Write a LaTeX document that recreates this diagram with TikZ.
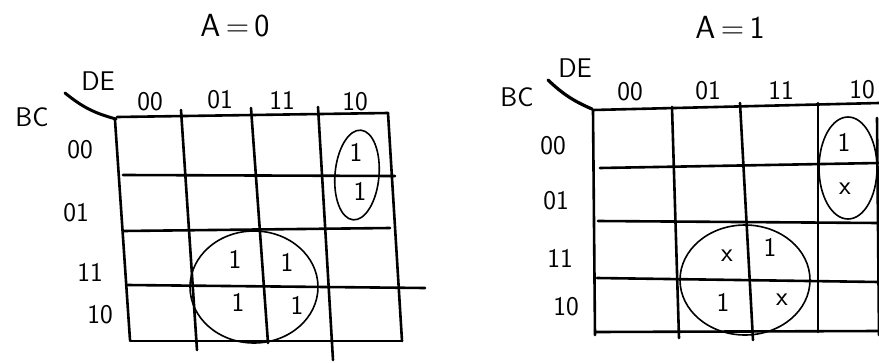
\documentclass[tikz,border=0pt]{standalone}
\usetikzlibrary{shapes.geometric}
\begin{document}
\begin{tikzpicture}[x=1pt,y=-1pt,
  gridline/.style={line width=2.6pt,line cap=round,line join=round},
  lbl/.style={font=\sffamily\fontsize{27}{27}\selectfont,inner sep=0pt},
  entry/.style={font=\sffamily\fontsize{27}{27}\selectfont,inner sep=0pt},
  title/.style={font=\sffamily\fontsize{32}{32}\selectfont,inner sep=0pt},
  loop/.style={line width=1.6pt}]
\useasboundingbox (0,0) rectangle (879,362);
% ---------- A = 0 ----------
\node[title] (t0) at (235,26) {A\,=\,0};
\node[lbl] (bc0) at (32,117) {BC};
\node[lbl] (de0) at (98,81) {DE};
\coordinate (k0a) at (65,93);
\coordinate (k0b) at (116,119);
\draw[line width=3pt,line cap=round] (k0a) to[bend right=12] (k0b);
\node[lbl] (c00) at (150,102) {00};
\node[lbl] (c01) at (220,100) {01};
\node[lbl] (c11) at (282,100) {11};
\node[lbl] (c10) at (355,102) {10};
\node[lbl] (r00) at (80,150) {00};
\node[lbl] (r01) at (76,213) {01};
\node[lbl] (r11) at (90,272) {11};
\node[lbl] (r10) at (100,315) {10};
% grid
\draw[gridline] (117,117) -- (388,113);
\draw[gridline] (123,175) -- (395,176);
\draw[gridline] (123,231) -- (390,228);
\draw[gridline] (127,285) -- (425,288);
\draw[gridline] (130,341) -- (402,341);
\draw[gridline] (115,120) -- (130,340);
\draw[gridline] (181,110) -- (197,350);
\draw[gridline] (251,108) -- (268,343);
\draw[gridline] (318,107) -- (333,360);
\draw[gridline] (388,113) -- (402,341);
% entries
\node[entry] (e1) at (356,152) {1};
\node[entry] (e2) at (360,191) {1};
\node[entry] (e3) at (235,259) {1};
\node[entry] (e4) at (287,262) {1};
\node[entry] (e5) at (238,302) {1};
\node[entry] (e6) at (297,305) {1};
\node[loop,draw,ellipse,minimum width=44pt,minimum height=90pt,rotate=-5] (g1) at (357,175) {};
\node[loop,draw,ellipse,minimum width=128pt,minimum height=112pt] (g2) at (254,287) {};
% ---------- A = 1 ----------
\node[title] (t1) at (730,27) {A\,=\,1};
\node[lbl] (bc1) at (517,97) {BC};
\node[lbl] (de1) at (575,68) {DE};
\coordinate (k1a) at (548,80);
\coordinate (k1b) at (592,109);
\draw[line width=3.2pt,line cap=round] (k1a) to[bend right=10] (k1b);
\node[lbl] (d00) at (630,92) {00};
\node[lbl] (d01) at (708,91) {01};
\node[lbl] (d11) at (781,90) {11};
\node[lbl] (d10) at (862,90) {10};
\node[lbl] (s00) at (553,146) {00};
\node[lbl] (s01) at (556,201) {01};
\node[lbl] (s11) at (560,258) {11};
\node[lbl] (s10) at (566,307) {10};
% grid
\draw[gridline] (593,110) -- (879,103);
\draw[gridline] (600,168) -- (879,163);
\draw[gridline] (598,221) -- (879,223);
\draw[gridline] (597,278) -- (879,282);
\draw[gridline] (595,332) -- (879,331);
\draw[gridline] (593,110) -- (595,335);
\draw[gridline] (672,107) -- (679,338);
\draw[gridline] (740,103) -- (753,340);
\draw[gridline] (818,103) -- (818,332);
\draw[gridline] (877,118) -- (879,335);
% entries
\node[entry] (f1) at (844,142) {1};
\node[entry] (f2) at (845,189) {x};
\node[entry] (f3) at (727,256) {x};
\node[entry] (f4) at (770,247) {1};
\node[entry] (f5) at (723,302) {1};
\node[entry] (f6) at (782,300) {x};
\node[loop,draw,ellipse,minimum width=58pt,minimum height=102pt] (h1) at (848,168) {};
\node[loop,draw,ellipse,minimum width=130pt,minimum height=110pt] (h2) at (745,280) {};
\end{tikzpicture}
\end{document}
